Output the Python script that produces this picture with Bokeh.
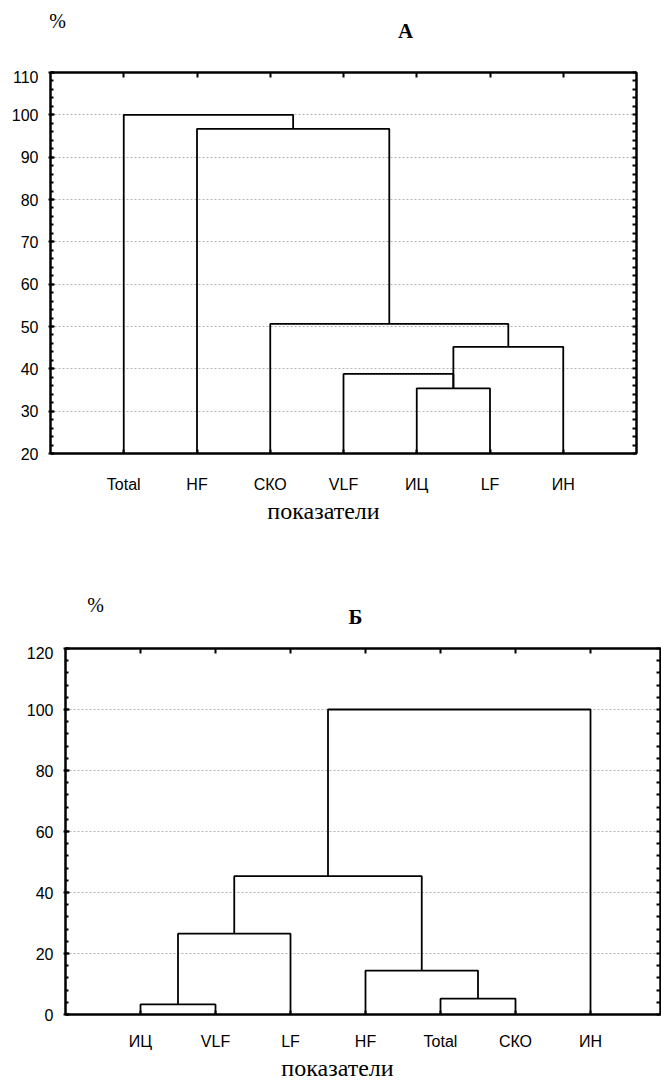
from bokeh.plotting import figure
from bokeh.models import Range1d, FixedTicker, LinearAxis
from bokeh.core.properties import value
from bokeh.embed import file_html
from bokeh.resources import INLINE

# ---------------- data ----------------
leaves_a = ["Total", "HF", "СКО", "VLF", "ИЦ", "LF", "ИН"]
merge_left_a = [4, 3, 7, 2, 1, 0]
merge_right_a = [5, 7, 6, 9, 10, 11]
merge_height_a = [35.4, 38.8, 45.2, 50.6, 96.7, 100.0]
yticks_a = [20, 30, 40, 50, 60, 70, 80, 90, 100, 110]

leaves_b = ["ИЦ", "VLF", "LF", "HF", "Total", "СКО", "ИН"]
merge_left_b = [0, 7, 4, 3, 8, 11]
merge_right_b = [1, 2, 5, 9, 10, 6]
merge_height_b = [3.3, 26.5, 5.2, 14.4, 45.4, 100.0]
yticks_b = [0, 20, 40, 60, 80, 100, 120]

xlabel_text = "показатели"
unit_text = "%"
title_a = "А"
title_b = "Б"

SANS = "Liberation Sans"
SERIF = "Liberation Serif"
W = 661


def dendro_lines(n, left, right, heights, base):
    pos = {i: i + 1 for i in range(n)}
    hs = {i: base for i in range(n)}
    xs, ys = [], []
    for k, (l, r, h) in enumerate(zip(left, right, heights)):
        xl, xr = pos[l], pos[r]
        xs.append([xl, xl, xr, xr])
        ys.append([hs[l], h, h, hs[r]])
        pos[n + k] = (xl + xr) / 2
        hs[n + k] = h
    return xs, ys


def make_strip(height, items):
    """A plain text strip: items are (x_px, y_px_from_top, text, size, bold)."""
    h = figure(width=W, height=height, output_backend="svg",
               toolbar_location=None, x_range=Range1d(0, W),
               y_range=Range1d(height, 0), min_border=0,
               x_axis_location=None, y_axis_location=None)
    h.outline_line_color = None
    h.xgrid.visible = False
    h.ygrid.visible = False
    for (x, y, t, size, bold) in items:
        h.text(x=[x], y=[y], text=[t], text_font=value(SERIF),
               text_font_style="bold" if bold else "normal",
               text_font_size=size, text_align="center",
               text_baseline="middle", text_color="black")
    return h


def make_panel(leaves, left, right, heights, yticks, x_end, height,
               bl, br, bt, bb, minor, label_standoff):
    y0, y1 = yticks[0], yticks[-1]
    p = figure(width=W, height=height, output_backend="svg",
               toolbar_location=None, x_range=Range1d(0, x_end),
               y_range=Range1d(y0, y1), min_border_left=bl,
               min_border_right=br, min_border_top=bt, min_border_bottom=bb,
               x_axis_location=None, y_axis_location=None)
    p.outline_line_color = "black"
    p.outline_line_width = 2
    p.xgrid.visible = False

    n = len(leaves)
    positions = list(range(1, n + 1))
    minor_ticks = [yticks[0] + i * minor
                   for i in range(int(round((y1 - y0) / minor)) + 1)]

    bottom = LinearAxis(ticker=FixedTicker(ticks=positions))
    bottom.major_label_overrides = {i + 1: lab for i, lab in enumerate(leaves)}
    bottom.major_label_text_font = SANS
    bottom.major_label_text_font_size = "16px"
    bottom.major_label_text_color = "black"
    bottom.major_label_standoff = label_standoff
    bottom.major_tick_in = 4
    bottom.major_tick_out = 0
    bottom.minor_tick_line_color = None
    bottom.axis_line_width = 2
    bottom.major_tick_line_width = 2
    p.add_layout(bottom, "below")

    top = LinearAxis(ticker=FixedTicker(ticks=[], minor_ticks=positions))
    top.minor_tick_in = 5
    top.minor_tick_out = 0
    top.minor_tick_line_width = 2
    top.axis_line_width = 2
    p.add_layout(top, "above")

    leftax = LinearAxis(ticker=FixedTicker(ticks=yticks, minor_ticks=minor_ticks))
    leftax.major_label_text_font = SANS
    leftax.major_label_text_font_size = "16px"
    leftax.major_label_text_color = "black"
    leftax.major_label_standoff = 10
    leftax.major_tick_in = 4
    leftax.major_tick_out = 2
    leftax.minor_tick_in = 3
    leftax.minor_tick_out = 0
    leftax.axis_line_width = 2
    leftax.major_tick_line_width = 2
    leftax.minor_tick_line_width = 2
    p.add_layout(leftax, "left")

    rightax = LinearAxis(ticker=FixedTicker(ticks=[], minor_ticks=minor_ticks))
    rightax.minor_tick_in = 4
    rightax.minor_tick_out = 0
    rightax.axis_line_width = 2
    rightax.minor_tick_line_width = 2
    p.add_layout(rightax, "right")

    p.ygrid.ticker = FixedTicker(ticks=yticks)
    p.ygrid.grid_line_color = "#b5b5b5"
    p.ygrid.grid_line_dash = "2 2"
    p.ygrid.grid_line_width = 1

    xs, ys = dendro_lines(n, left, right, heights, y0)
    p.multi_line(xs, ys, line_color="black", line_width=1.8)
    return p


# page y: header A 0..70 | plot A 70..495 (frame 72..453) |
#         strip 495..646 | plot Б 646..1052 (frame 648..1016) | footer 1052..1082
ha = make_strip(70, [(57, 20, unit_text, "20px", False),
                     (405, 30, title_a, "21px", True)])
pa = make_panel(leaves_a, merge_left_a, merge_right_a, merge_height_a, yticks_a,
                8.0, 425, 50, 25, 2, 42, 2, 22)
hb = make_strip(151, [(323, 15, xlabel_text, "24px", False),
                      (95, 109, unit_text, "20px", False),
                      (355, 121, title_b, "21px", True)])
pb = make_panel(leaves_b, merge_left_b, merge_right_b, merge_height_b, yticks_b,
                595 / 75.0, 406, 65, 1, 2, 36, 4, 18)
fb = make_strip(30, [(337, 15, xlabel_text, "24px", False)])

open("out.html", "w").write(file_html([ha, pa, hb, pb, fb], INLINE))
